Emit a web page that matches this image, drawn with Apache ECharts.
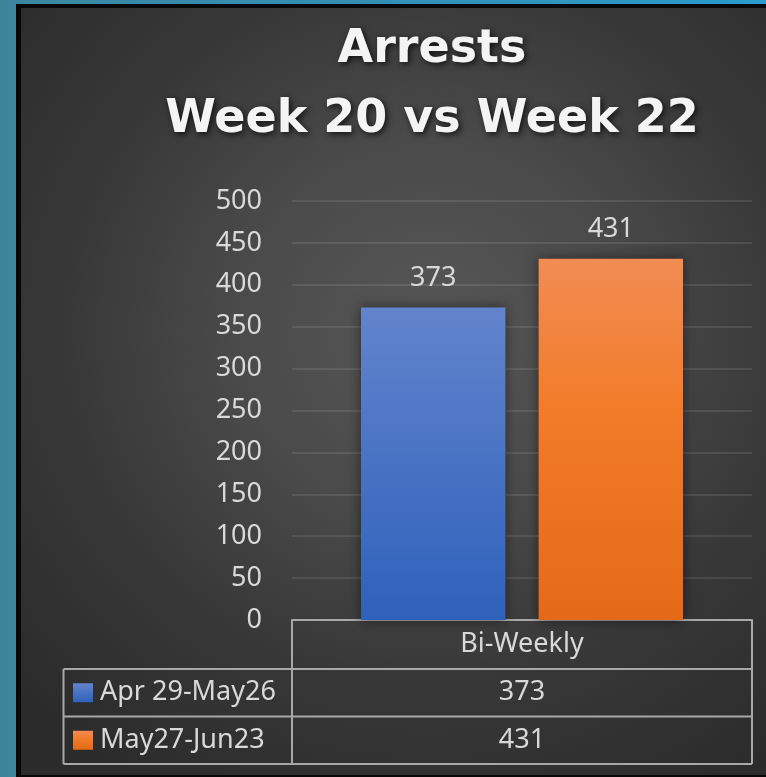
<!DOCTYPE html>
<html>
<head>
<meta charset="utf-8">
<script src="https://cdn.jsdelivr.net/npm/echarts@6/dist/echarts.min.js"></script>
<style>
html,body{margin:0;padding:0;width:766px;height:777px;overflow:hidden;}
body{background:linear-gradient(to right,#3d8399 0px,#3a86a0 20px,#2a9bcb 766px);position:relative;}
#frame{position:absolute;left:16px;top:4px;width:745px;height:767px;border-left:5px solid #080808;border-top:4px solid #080808;border-bottom:2px solid #080808;
background:radial-gradient(ellipse 75% 70% at 55% 42%,#575757 0%,#4a4a4a 35%,#383838 65%,#2b2b2b 100%);}
#chart{position:absolute;left:0;top:0;width:766px;height:777px;}
</style>
</head>
<body>
<div id="frame"></div>
<div id="chart"></div>
<script>
const titleLines = ['Arrests', 'Week 20 vs Week 22'];
const categories = ['Bi-Weekly'];
const seriesNames = ['Apr 29-May26', 'May27-Jun23'];
const seriesA = [373];
const seriesB = [431];
const yMin = 0, yMax = 500, yInterval = 50;

const FONT = '"Noto Sans", "Open Sans", sans-serif';
const txtColor = '#d9d9d9';
const lineColor = '#a8a8a8';

const blueGrad = new echarts.graphic.LinearGradient(0,0,0,1,[{offset:0,color:'#6284cc'},{offset:1,color:'#2e61bb'}]);
const orangeGrad = new echarts.graphic.LinearGradient(0,0,0,1,[{offset:0,color:'#f18c54'},{offset:0.4,color:'#f27c2a'},{offset:1,color:'#e46a17'}]);

const chart = echarts.init(document.getElementById('chart'), null, {renderer:'canvas'});

const labelStyle = {show:true, position:'top', distance:16, color:txtColor, fontFamily:FONT, fontSize:27};

chart.setOption({
  backgroundColor:'transparent',
  animation:false,
  title:{
    text: titleLines.join('\n'),
    left: 427, top: 10, textAlign:'center',
    textStyle:{color:'#f4f4f4', fontFamily:'"DejaVu Sans", sans-serif', fontWeight:'bold', fontSize:46, lineHeight:70,
      textShadowColor:'rgba(0,0,0,0.75)', textShadowBlur:6, textShadowOffsetX:2, textShadowOffsetY:2}
  },
  grid:{left:292, right:14, top:201, bottom:157, containLabel:false},
  xAxis:{type:'category', data:categories,
    axisLine:{show:true, lineStyle:{color:lineColor, width:2}},
    axisTick:{show:false}, axisLabel:{show:false}, splitLine:{show:false}},
  yAxis:{type:'value', min:yMin, max:yMax, interval:yInterval,
    axisLine:{show:false}, axisTick:{show:false},
    axisLabel:{color:txtColor, fontFamily:FONT, fontSize:27, margin:30},
    splitLine:{lineStyle:{color:'rgba(255,255,255,0.13)', width:1.5}}},
  series:[
    {name:seriesNames[0], type:'bar', data:seriesA, barGap:'23%', barCategoryGap:'30%',
      itemStyle:{color:blueGrad, shadowColor:'rgba(0,0,0,0.5)', shadowBlur:12}, label:labelStyle},
    {name:seriesNames[1], type:'bar', data:seriesB,
      itemStyle:{color:orangeGrad, shadowColor:'rgba(0,0,0,0.5)', shadowBlur:12}, label:labelStyle}
  ]
});

// Data table below the plot
const gridRect = chart.getModel().getComponent('grid').coordinateSystem.getRect();
const xL = gridRect.x, xR = gridRect.x + gridRect.width;
const yTop = gridRect.y + gridRect.height;  // 620
const rowH = [49, 47.5, 47.5];
const legendLeft = 63.5;
const y1 = yTop + rowH[0], y2 = y1 + rowH[1], y3 = y2 + rowH[2];
const ls = {stroke:lineColor, lineWidth:2};
const g = [];
function line(x1,ya,x2,yb){ g.push({type:'line', shape:{x1:x1,y1:ya,x2:x2,y2:yb}, style:ls, z:10}); }
line(xL, yTop, xL, y3);
line(xR, yTop, xR, y3);
line(legendLeft, y1, xR, y1);
line(legendLeft, y2, xR, y2);
line(legendLeft, y3, xR, y3);
line(legendLeft, y1, legendLeft, y3);

const catX = chart.convertToPixel({xAxisIndex:0}, categories[0]);
g.push({type:'text', x:catX, y:(yTop+y1)/2, style:{text:categories[0], fill:txtColor, font:'27px '+FONT, align:'center', verticalAlign:'middle'}, z:10});
const vals = [seriesA, seriesB];
const swColors = [blueGrad, orangeGrad];
const rowTops = [y1, y2];
for (let i=0;i<2;i++){
  const cy = rowTops[i] + rowH[i+1]/2;
  g.push({type:'text', x:catX, y:cy, style:{text:String(vals[i][0]), fill:txtColor, font:'27px '+FONT, align:'center', verticalAlign:'middle'}, z:10});
  g.push({type:'rect', shape:{x:73, y:cy-9.5, width:20, height:19}, style:{fill:swColors[i]}, z:10});
  g.push({type:'text', x:100, y:cy, style:{text:seriesNames[i], fill:txtColor, font:'27px '+FONT, align:'left', verticalAlign:'middle'}, z:10});
}
chart.setOption({graphic:g});
</script>
</body>
</html>
